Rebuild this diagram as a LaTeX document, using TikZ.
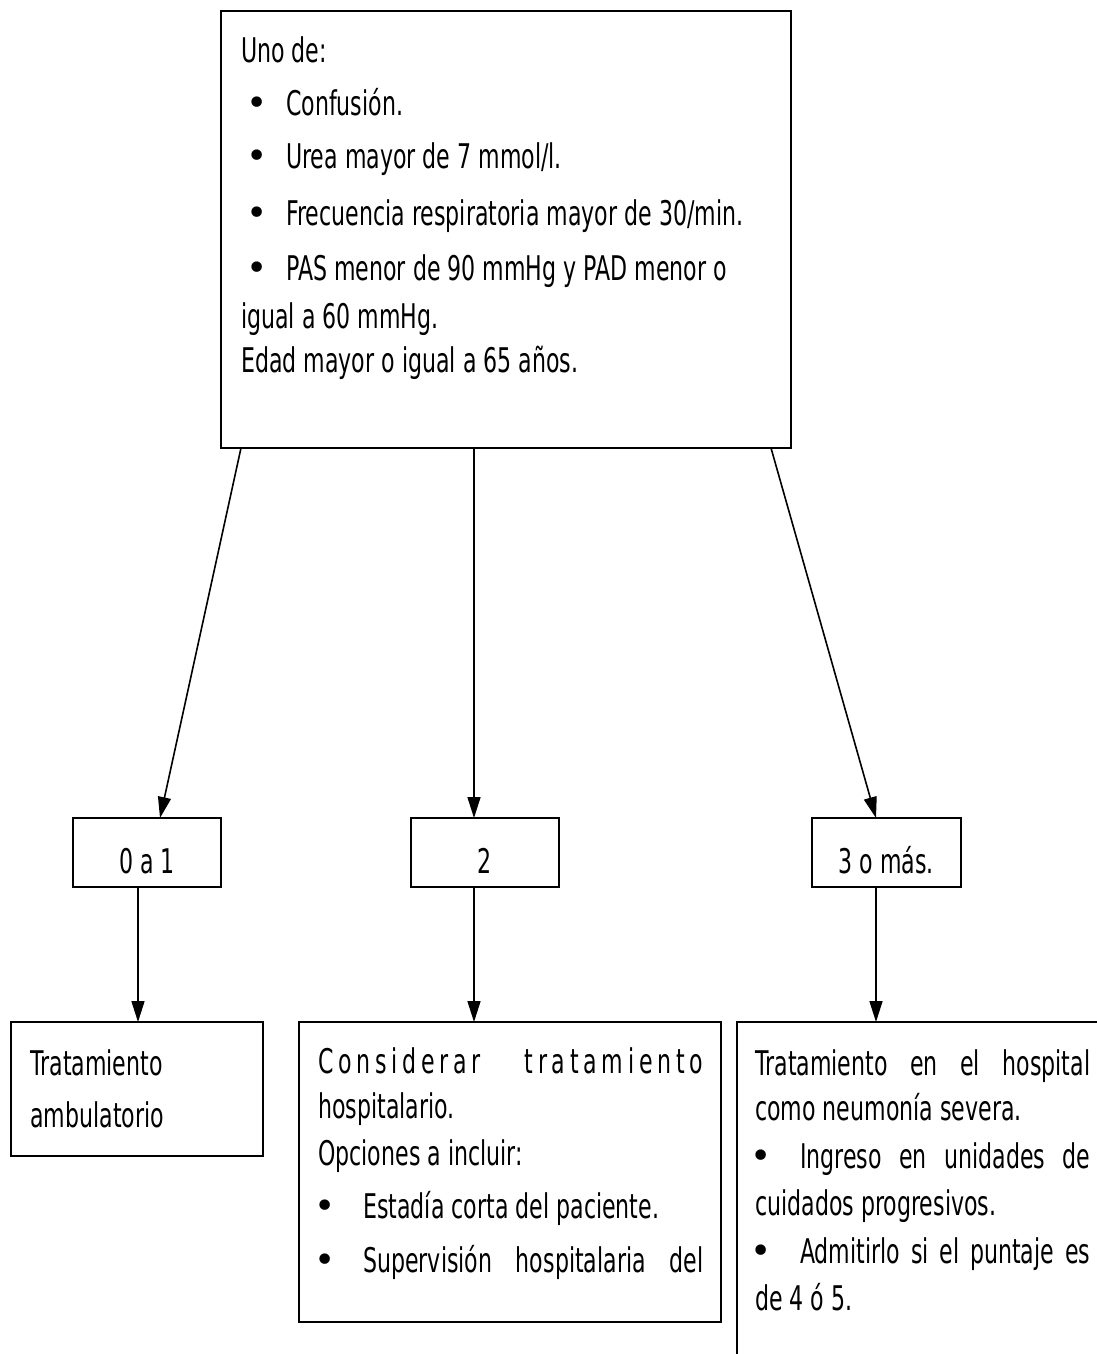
\documentclass[tikz,border=0pt]{standalone}
\usepackage{fontspec}
\setmainfont{DejaVu Sans}[FakeStretch=0.65]
\newfontfamily\spacedfont{DejaVu Sans}[FakeStretch=0.65,LetterSpace=14]
\newfontfamily\bulletfont{DejaVu Sans}
\usetikzlibrary{arrows.meta,calc}
\begin{document}
\begin{tikzpicture}[x=1pt,y=-1pt,
  box/.style={draw,line width=2.4pt,anchor=north west,inner sep=0pt,outer sep=0pt},
  txt/.style={anchor=base west,inner sep=0pt,font=\fontsize{34}{40}\selectfont},
  bul/.style={anchor=base west,inner sep=0pt,font=\bulletfont\fontsize{36}{40}\selectfont},
  ctxt/.style={anchor=base,inner sep=0pt,font=\fontsize{34}{40}\selectfont},
  arr/.style={line width=1.6pt,-{Triangle[length=21pt,width=13pt]}}]
\useasboundingbox (0,0) rectangle (1097,1354);
\fill[white] (0,0) rectangle (1097,1354);
\clip (0,0) rectangle (1097,1354);
% boxes
\node[box,minimum width=570pt,minimum height=437pt] (top) at (221,11) {};
\node[box,minimum width=148pt,minimum height=69pt] (b1) at (73,818) {};
\node[box,minimum width=148pt,minimum height=69pt] (b2) at (411,818) {};
\node[box,minimum width=149pt,minimum height=69pt] (b3) at (812,818) {};
\node[box,minimum width=252pt,minimum height=134pt] (c1) at (11,1022) {};
\node[box,minimum width=422pt,minimum height=300pt] (c2) at (299,1022) {};
\node[box,minimum width=420pt,minimum height=380pt] (c3) at (737,1022) {};
% top box text
\node[txt] (t0) at (241,63) {Uno de:};
\node[bul] (t1b) at (246,115) {•};
\node[txt] (t1) at (286,115) {Confusión.};
\node[bul] (t2b) at (246,168) {•};
\node[txt] (t2) at (286,168) {Urea mayor de 7 mmol/l.};
\node[bul] (t3b) at (246,225) {•};
\node[txt] (t3) at (286,225) {Frecuencia respiratoria mayor de 30/min.};
\node[bul] (t4b) at (246,280) {•};
\node[txt] (t4) at (286,280) {PAS menor de 90 mmHg y PAD menor o};
\node[txt] (t5) at (241,328) {igual a 60 mmHg.};
\node[txt] (t6) at (241,372) {Edad mayor o igual a 65 años.};
% small boxes text
\node[ctxt] (l1) at (147,873) {0 a 1};
\node[ctxt] (l2) at (485,873) {2};
\node[ctxt] (l3) at (886,873) {3 o más.};
% bottom left
\node[txt] (a1) at (30,1075) {Tratamiento};
\node[txt] (a2) at (30,1127) {ambulatorio};
% bottom middle
\node[txt] (m1) at (318,1073) {\makebox[385pt][l]{\spacedfont Considerar\hfill tratamiento}};
\node[txt] (m2) at (318,1118) {hospitalario.};
\node[txt] (m3) at (318,1165) {Opciones a incluir:};
\node[bul] (m4b) at (314,1218) {•};
\node[txt] (m4) at (363,1218) {Estadía corta del paciente.};
\node[bul] (m5b) at (314,1272) {•};
\node[txt] (m5) at (363,1272) {\makebox[340pt][s]{Supervisión hospitalaria del}};
% bottom right
\node[txt] (r1) at (755,1075) {\makebox[335pt][s]{Tratamiento en el hospital}};
\node[txt] (r2) at (755,1120) {como neumonía severa.};
\node[bul] (r3b) at (750,1168) {•};
\node[txt] (r3) at (800,1168) {\makebox[290pt][s]{Ingreso en unidades de}};
\node[txt] (r4) at (755,1215) {cuidados progresivos.};
\node[bul] (r5b) at (750,1263) {•};
\node[txt] (r5) at (800,1263) {\makebox[290pt][s]{Admitirlo si el puntaje es}};
\node[txt] (r6) at (755,1310) {de 4 ó 5.};
% connectors
\draw[arr] ($(top.south west)+(20,0)$) -- ($(b1.north west)+(87,0)$);
\draw[arr] ($(top.south west)+(253,0)$) -- ($(b2.north west)+(63,0)$);
\draw[arr] ($(top.south west)+(550,0)$) -- ($(b3.north west)+(64,0)$);
\draw[arr] ($(b1.south west)+(65,0)$) -- ($(c1.north west)+(127,0)$);
\draw[arr] ($(b2.south west)+(63,0)$) -- ($(c2.north west)+(175,0)$);
\draw[arr] ($(b3.south west)+(64,0)$) -- ($(c3.north west)+(139,0)$);
\end{tikzpicture}
\end{document}
